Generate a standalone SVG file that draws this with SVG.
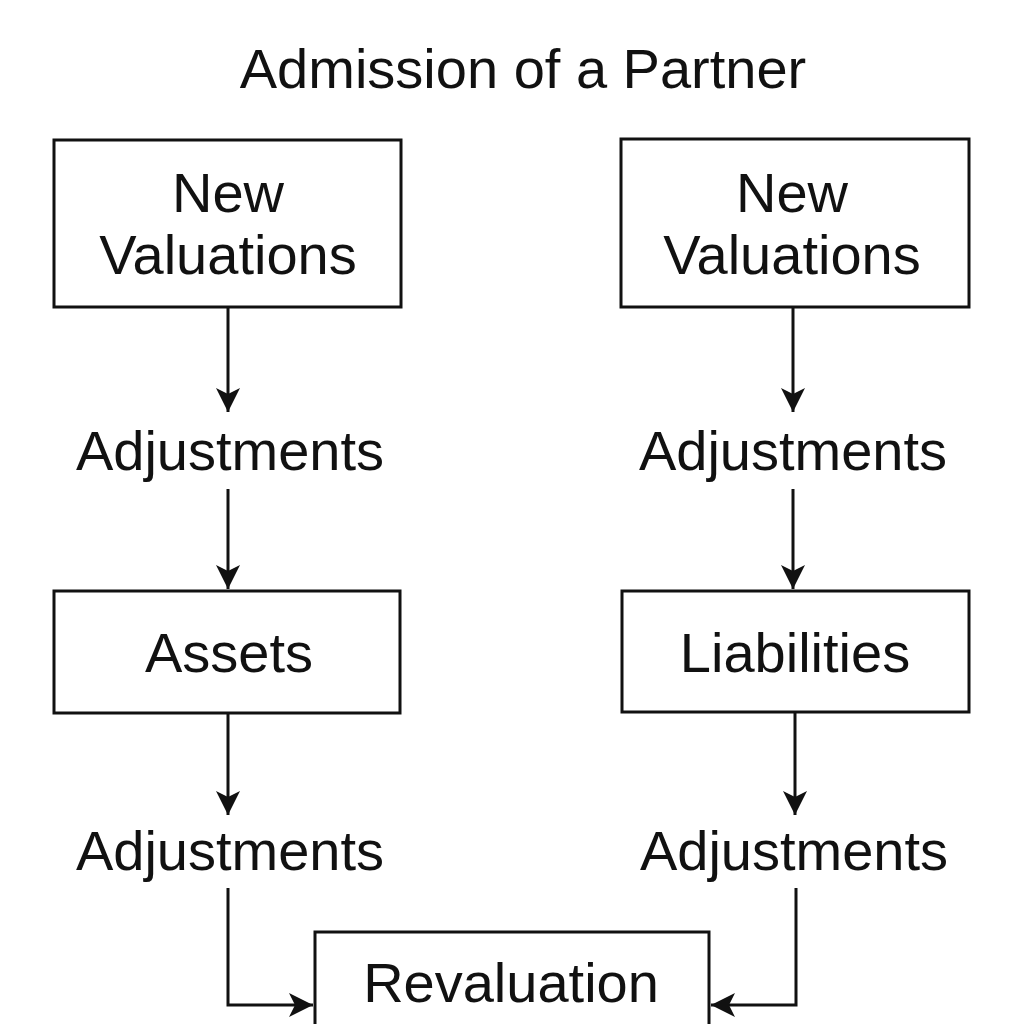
<svg xmlns="http://www.w3.org/2000/svg" width="1024" height="1024" viewBox="0 0 1024 1024">
<style>
.box{fill:#fff;stroke:#111;stroke-width:3}
.t{font-family:"Liberation Sans",Arial,sans-serif;font-size:56px;fill:#111;text-anchor:middle}
.c{fill:none;stroke:#111;stroke-width:3}
</style>
<defs>
<marker id="ah" markerUnits="userSpaceOnUse" markerWidth="26" markerHeight="26" viewBox="0 0 26 26" refX="24" refY="13" orient="auto">
<path d="M0,1 L24,13 L0,25 L6,13 z" fill="#111"/>
</marker>
</defs>
<rect width="1024" height="1024" fill="#fff"/>
<text class="t" x="523" y="88" font-size="55">Admission of a Partner</text>
<g id="nv1"><rect class="box" x="54" y="140" width="347" height="167"/><text class="t" x="228" y="212">New</text><text class="t" x="228" y="274">Valuations</text></g>
<g id="nv2"><rect class="box" x="621" y="139" width="348" height="168"/><text class="t" x="792" y="212">New</text><text class="t" x="792" y="274">Valuations</text></g>
<g id="adj1"><text class="t" x="230" y="470">Adjustments</text></g>
<g id="adj2"><text class="t" x="793" y="470">Adjustments</text></g>
<g id="assets"><rect class="box" x="54" y="591" width="346" height="122"/><text class="t" x="229" y="672">Assets</text></g>
<g id="liab"><rect class="box" x="622" y="591" width="347" height="121"/><text class="t" x="795" y="672">Liabilities</text></g>
<g id="adj3"><text class="t" x="230" y="870">Adjustments</text></g>
<g id="adj4"><text class="t" x="794" y="870">Adjustments</text></g>
<g id="reval"><rect class="box" x="315" y="932" width="394" height="120"/><text class="t" x="511" y="1002">Revaluation</text></g>
<g id="connectors">
<path class="c" d="M228,307 V412" marker-end="url(#ah)"/>
<path class="c" d="M793,307 V412" marker-end="url(#ah)"/>
<path class="c" d="M228,489 V589" marker-end="url(#ah)"/>
<path class="c" d="M793,489 V589" marker-end="url(#ah)"/>
<path class="c" d="M228,713 V815" marker-end="url(#ah)"/>
<path class="c" d="M795,712 V815" marker-end="url(#ah)"/>
<path class="c" d="M228,888 V1005 H313" marker-end="url(#ah)"/>
<path class="c" d="M796,888 V1005 H711" marker-end="url(#ah)"/>
</g>
</svg>
